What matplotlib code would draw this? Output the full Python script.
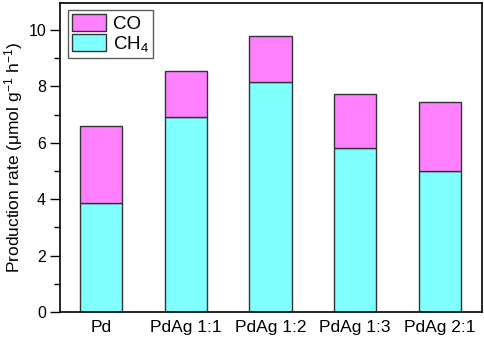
import numpy as np
import matplotlib.pyplot as plt
from matplotlib.ticker import MultipleLocator

# dados
categorias = ['Pd', 'PdAg 1:1', 'PdAg 1:2', 'PdAg 1:3', 'PdAg 2:1']
ch4 = [3.88, 6.90, 8.15, 5.83, 4.99]
total = [6.61, 8.55, 9.80, 7.74, 7.44]
co = [t - c for t, c in zip(total, ch4)]

plt.rcParams['font.family'] = ['Liberation Sans', 'DejaVu Sans']
plt.rcParams['mathtext.fontset'] = 'custom'
plt.rcParams['mathtext.rm'] = 'Liberation Sans'
plt.rcParams['mathtext.it'] = 'Liberation Sans'

fig = plt.figure(figsize=(4.84, 3.41), dpi=100)
ax = fig.add_axes([60 / 484, 29 / 341, 422 / 484, 309 / 341])

x = np.arange(len(categorias))
edge = '#333333'
b1 = ax.bar(x, ch4, width=0.5, color='#80FFFF', edgecolor=edge, linewidth=1.0, label='CH$_4$')
b2 = ax.bar(x, co, width=0.5, bottom=ch4, color='#FF80FF', edgecolor=edge, linewidth=1.0, label='CO')

ax.set_xlim(-0.485, 4.5)
ax.set_ylim(0, 10.96)
ax.yaxis.set_major_locator(MultipleLocator(2))
ax.yaxis.set_minor_locator(MultipleLocator(1))
ax.set_xticks(x)
ax.set_xticklabels(categorias, fontsize=12.5)
ax.tick_params(axis='x', length=0, pad=6)
ax.tick_params(axis='y', which='major', length=7, width=1, labelsize=11.5, pad=3)
ax.tick_params(axis='y', which='minor', length=4, width=1)
for s in ax.spines.values():
    s.set_linewidth(1.2)

ax.set_ylabel('Production rate (μmol g$^{-1}$ h$^{-1}$)', fontsize=12.5)
ax.yaxis.set_label_coords(-0.083, 0.5)

leg = ax.legend(handles=[b2, b1], loc='upper left', bbox_to_anchor=(8 / 422, 1 - 7 / 309),
                fontsize=13.5, frameon=True, fancybox=False, edgecolor='#333333',
                handlelength=1.85, handleheight=1.05, borderpad=0.2, labelspacing=0.05,
                handletextpad=0.35, borderaxespad=0)
leg.get_frame().set_linewidth(1.0)

plt.savefig('out.png', dpi=100)
